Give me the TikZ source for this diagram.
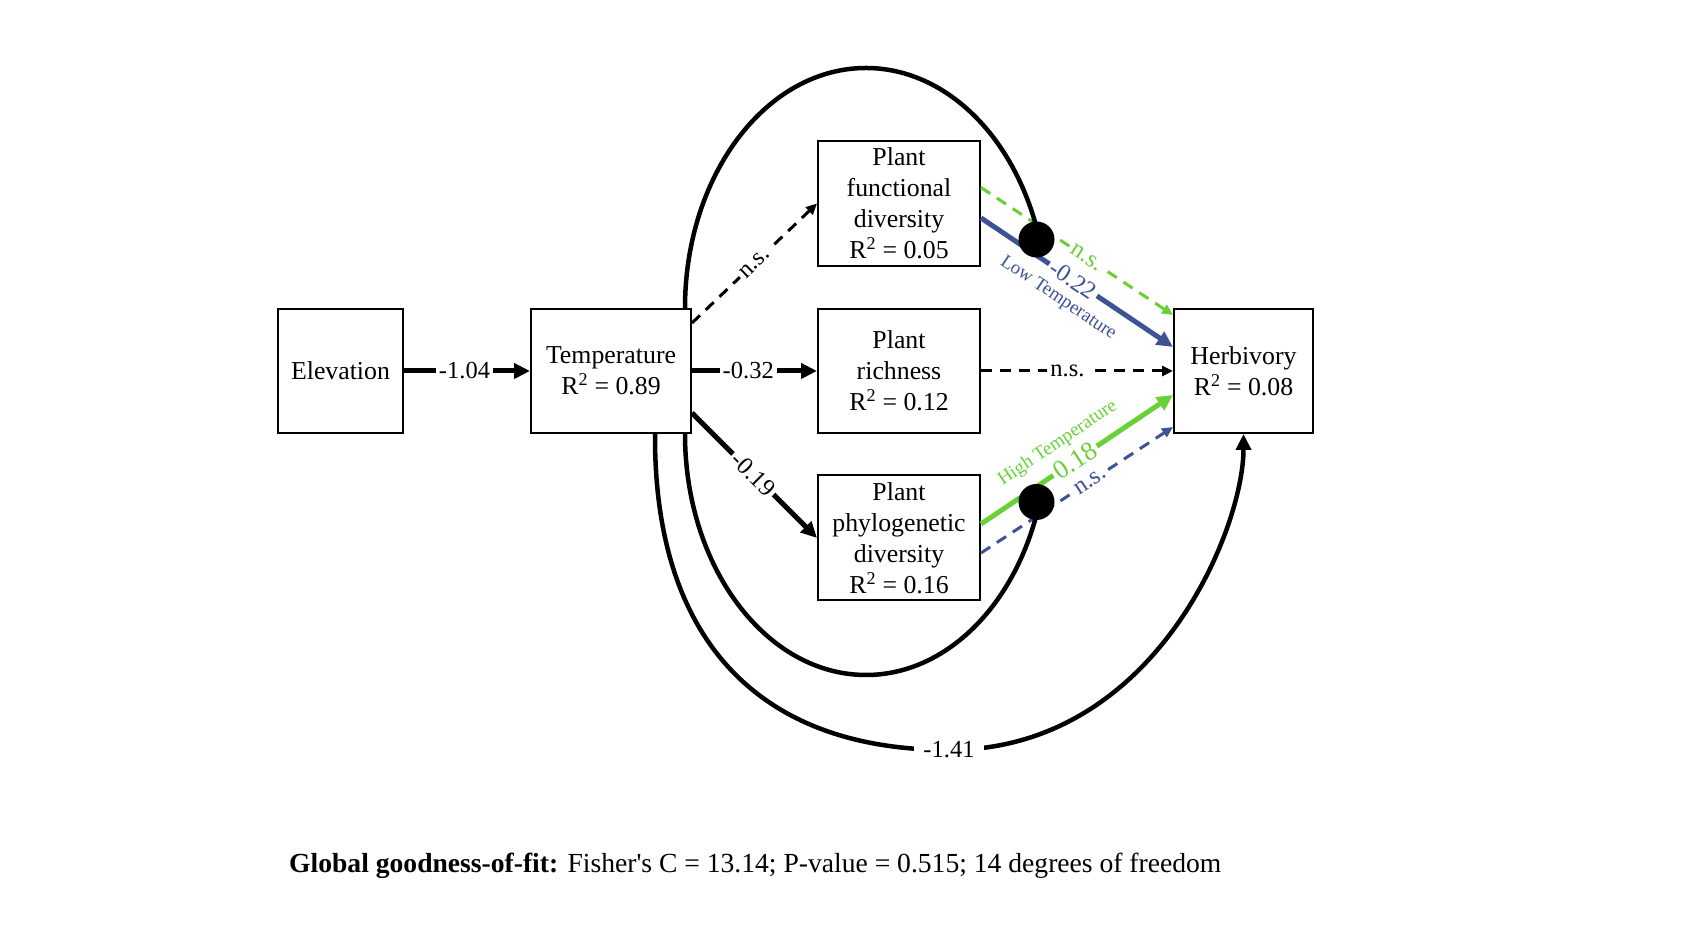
\documentclass[tikz,border=0pt]{standalone}
\usepackage{fontspec}
\setmainfont{Liberation Serif}
\usetikzlibrary{arrows.meta}
\definecolor{grn}{RGB}{105,208,55}
\definecolor{blu}{RGB}{62,82,150}
\begin{document}
\begin{tikzpicture}[x=1pt,y=1pt,
  box/.style={draw, line width=2pt, fill=white, align=center, font=\fontsize{25.8}{31}\selectfont, inner sep=0pt},
  lab/.style={font=\fontsize{24.5}{29}\selectfont, inner sep=3pt},
  smalllab/.style={font=\fontsize{19}{22}\selectfont, inner sep=0pt},
  bigtip/.style={-{Triangle[length=16pt,width=15pt]}},
  smalltip/.style={-{Triangle[length=11pt,width=10pt]}},
  thk/.style={line width=5pt},
  dsh/.style={line width=3pt, dash pattern=on 11pt off 8pt},
  curve/.style={line width=4.5pt},
  dot/.style={circle, fill=black, minimum size=36pt, inner sep=0pt},
]
\useasboundingbox (0,0) rectangle (1687,949);

% boxes
\node[box, minimum width=125pt, minimum height=124pt] (E) at (340.5,578) {Elevation};
\node[box, minimum width=160pt, minimum height=124pt] (T) at (611,578) {Temperature\\R\textsuperscript{2} = 0.89};
\node[box, minimum width=162pt, minimum height=125pt] (F) at (899,745.5) {Plant\\functional\\diversity\\R\textsuperscript{2} = 0.05};
\node[box, minimum width=162pt, minimum height=124pt] (R) at (899,578) {Plant\\richness\\R\textsuperscript{2} = 0.12};
\node[box, minimum width=162pt, minimum height=125pt] (P) at (899,411) {Plant\\phylogenetic\\diversity\\R\textsuperscript{2} = 0.16};
\node[box, minimum width=139pt, minimum height=124pt] (H) at (1243.5,578) {Herbivory\\R\textsuperscript{2} = 0.08};

% black paths
\draw[thk, bigtip] (E.east) -- node[lab, fill=white, pos=0.48]{-1.04} (T.west);
\draw[dsh, smalltip] ([yshift=-15pt]T.north east) -- node[lab, fill=white, sloped, pos=0.5]{n.s.} (F.west);
\draw[thk, bigtip] (T.east) -- node[lab, fill=white, pos=0.45]{-0.32} (R.west);
\draw[thk, bigtip] ([yshift=21pt]T.south east) -- node[lab, fill=white, sloped, pos=0.49]{-0.19} (P.west);
\draw[dsh, smalltip] (R.east) -- node[lab, fill=white, pos=0.45]{n.s.} (H.west);

% coloured paths
\draw[grn, dsh, smalltip] ([yshift=16pt]F.east) -- node[lab, fill=white, sloped, pos=0.55]{n.s.} ([yshift=-7pt]H.north west);
\draw[blu, thk, bigtip] ([yshift=-14.5pt]F.east) -- node[lab, fill=white, sloped, pos=0.48]{-0.22} node[smalllab, sloped, below=13pt, pos=0.47]{Low Temperature} ([yshift=24pt]H.west);
\draw[grn, thk, bigtip] ([yshift=14pt]P.east) -- node[lab, fill=white, sloped, pos=0.49, font=\fontsize{26.5}{30}\selectfont]{0.18} node[smalllab, sloped, above=13pt, pos=0.47]{High Temperature} ([yshift=-24pt]H.west);
\draw[blu, dsh, smalltip] ([yshift=-15pt]P.east) -- node[lab, fill=white, sloped, pos=0.57]{n.s.} ([yshift=7pt]H.south west);

% interaction dots
\node[dot] (D1) at (1036.5,709.5) {};
\node[dot] (D2) at (1036.5,447) {};

% curves
\coordinate (ua) at ([xshift=-7pt]T.north east);
\coordinate (la) at ([xshift=-7pt]T.south east);
\coordinate (oa) at ([xshift=-37pt]T.south east);
\draw[curve] (ua) arc[start angle=180, end angle=17, x radius=181, y radius=240];
\draw[curve] (la) arc[start angle=180, end angle=343.5, x radius=181, y radius=241];
\draw[curve, bigtip] (oa) .. controls (654,310) and (758,199) .. (949,199) node[lab, fill=white, inner xsep=9pt]{-1.41} .. controls (1155,199) and (1243.5,420) .. (H.south);

% footer
\node[anchor=base west, font=\fontsize{27.6}{33}\selectfont, inner sep=0pt] (gof) at (289,76) {\textbf{Global goodness-of-fit:} Fisher\textquotesingle s C = 13.14; P-value = 0.515; 14 degrees of freedom};
\end{tikzpicture}
\end{document}
